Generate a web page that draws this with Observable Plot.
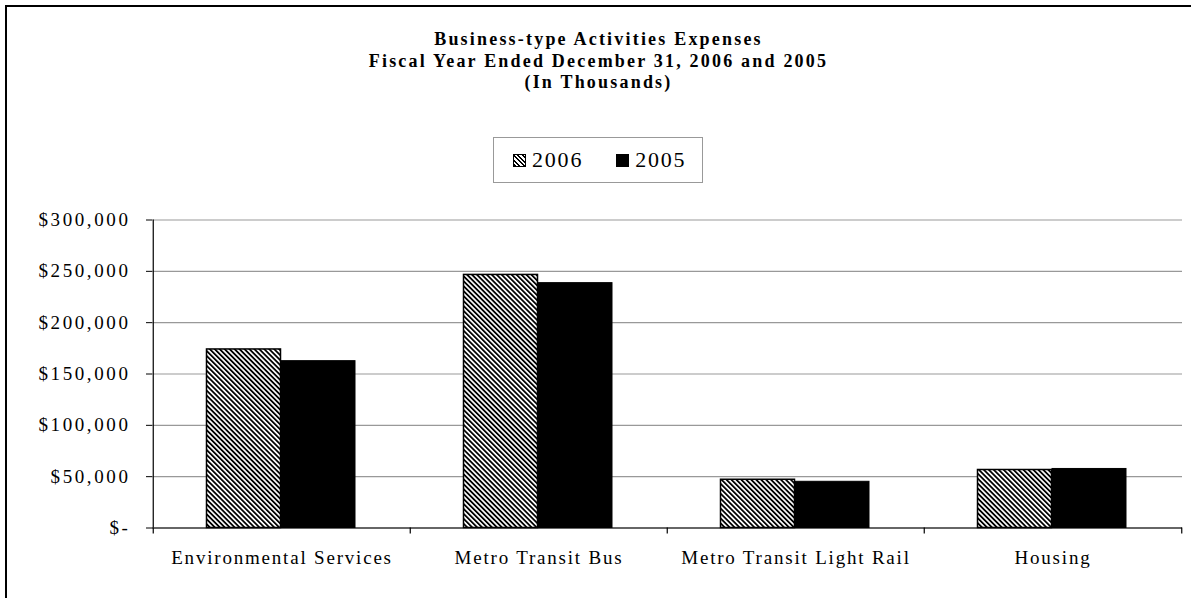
<!DOCTYPE html>
<html>
<head>
<meta charset="utf-8">
<script src="https://cdn.jsdelivr.net/npm/d3@7"></script>
<script src="https://cdn.jsdelivr.net/npm/@observablehq/plot@0.6"></script>
<style>
  html, body { margin: 0; padding: 0; background: #fff; overflow: hidden; }
  body { width: 1191px; height: 598px; position: relative; font-family: "Liberation Serif", "Times New Roman", serif; }
  #border { position: absolute; left: 5px; top: 5px; width: 1186px; height: 593px; border-top: 2.5px solid #000; border-left: 2.5px solid #000; box-sizing: border-box; pointer-events: none; z-index: 5; }
  #header { position: relative; height: 195px; }
  #title { position: absolute; left: 6px; right: 0; top: 29px; text-align: center; font-weight: bold; font-size: 18px; line-height: 21.5px; letter-spacing: 2.2px; color: #000; }
  #legend { position: absolute; left: 493px; top: 137px; width: 210px; height: 46px; border: 1px solid #999; display: flex; align-items: center; font-size: 22px; letter-spacing: 1.8px; color: #000; box-sizing: border-box; padding-left: 19px; }
  .sw { display: inline-block; width: 11px; height: 11px; border: 1px solid #000; margin-right: 6px; }
  .item { display: flex; align-items: center; }
  g[aria-label="y-axis tick label"] text { letter-spacing: 2.6px; }
  g[aria-label="x-axis tick label"] text { letter-spacing: 1.8px; }
</style>
</head>
<body>
<div id="border"></div>
<div id="header">
  <div id="title"></div>
  <div id="legend"></div>
</div>
<div id="chart"></div>
<script>
// ---- data ----
const titleLines = [
  "Business-type Activities Expenses",
  "Fiscal Year Ended December 31, 2006 and 2005",
  "(In Thousands)"
];
const categories = ["Environmental Services", "Metro Transit Bus", "Metro Transit Light Rail", "Housing"];
const seriesNames = ["2006", "2005"];
const values2006 = [173900, 246500, 47000, 56500];
const values2005 = [162500, 238500, 45000, 57500];
const yTickValues = [0, 50000, 100000, 150000, 200000, 250000, 300000];
const yTickLabels = ["$-", "$50,000", "$100,000", "$150,000", "$200,000", "$250,000", "$300,000"];

// ---- header ----
document.getElementById("title").innerHTML = titleLines.map(t => `<div>${t}</div>`).join("");
const legend = document.getElementById("legend");
seriesNames.forEach((name, i) => {
  const item = document.createElement("div");
  item.className = "item";
  if (i > 0) item.style.marginLeft = "33px";
  const sw = document.createElement("span");
  sw.className = "sw";
  sw.style.background = i === 0
    ? "repeating-linear-gradient(45deg, #000 0 1.6px, #fff 1.6px 3.2px)"
    : "#000";
  item.appendChild(sw);
  const tx = document.createElement("span");
  tx.textContent = name;
  item.appendChild(tx);
  legend.appendChild(item);
});

// ---- chart ----
const width = 1191, height = 403;
const marginLeft = 152, marginRight = 9, marginTop = 24.5, marginBottom = 70.5;
const bw = (width - marginLeft - marginRight) / categories.length;
const barW = 74.5, groupLeft = 53.5;

const d2006 = categories.map((c, i) => ({category: c, value: values2006[i]}));
const d2005 = categories.map((c, i) => ({category: c, value: values2005[i]}));

const defs = () => {
  const ns = "http://www.w3.org/2000/svg";
  const g = document.createElementNS(ns, "defs");
  g.innerHTML = `<pattern id="hatch" patternUnits="userSpaceOnUse" width="3.5" height="3.5" patternTransform="rotate(-45)">
      <rect width="3.5" height="3.5" fill="#fff"></rect>
      <rect width="1.8" height="3.5" fill="#000"></rect>
    </pattern>`;
  return g;
};

const chart = Plot.plot({
  width, height, marginLeft, marginRight, marginTop, marginBottom,
  style: {fontFamily: "'Liberation Serif', 'Times New Roman', serif", fontSize: "18px", color: "#000", background: "transparent", overflow: "visible"},
  x: {domain: categories, padding: 0, label: null},
  y: {domain: [0, 300000], label: null},
  marks: [
    defs,
    Plot.gridY(yTickValues, {stroke: "#999", strokeOpacity: 1, strokeWidth: 1.2}),
    Plot.barY(d2006, {x: "category", y: "value", fill: "url(#hatch)", stroke: "#000", strokeWidth: 1.5,
      insetLeft: groupLeft, insetRight: bw - groupLeft - barW}),
    Plot.barY(d2005, {x: "category", y: "value", fill: "#000", stroke: "#000", strokeWidth: 1,
      insetLeft: groupLeft + barW, insetRight: bw - groupLeft - 2 * barW}),
    Plot.ruleY([0], {stroke: "#000", strokeWidth: 1.2}),
    Plot.ruleX([categories[0]], {dx: -bw / 2, stroke: "#000", strokeWidth: 1.2}),
    Plot.ruleX(categories, {dx: -bw / 2, stroke: "#000", strokeWidth: 1.2,
      insetTop: height - marginTop - marginBottom, insetBottom: -6}),
    Plot.ruleX([categories[categories.length - 1]], {dx: bw / 2, stroke: "#000", strokeWidth: 1.2,
      insetTop: height - marginTop - marginBottom, insetBottom: -6}),
    Plot.axisY({ticks: yTickValues, tickFormat: d => yTickLabels[yTickValues.indexOf(d)],
      tickSize: 6, tickPadding: 16, fontSize: 19, stroke: "#000"}),
    Plot.axisX({tickSize: 0, tickPadding: 22, fontSize: 19})
  ]
});
document.getElementById("chart").appendChild(chart);
</script>
</body>
</html>
